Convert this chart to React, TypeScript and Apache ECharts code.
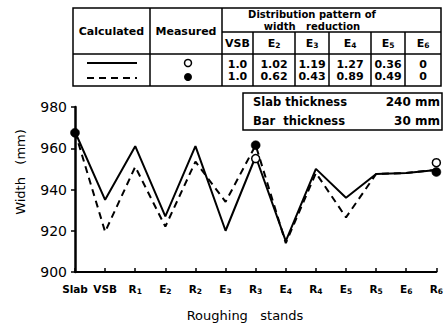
import React, { useEffect, useRef } from "react";
import * as echarts from "echarts";

const categories = ["Slab", "VSB", "R1", "E2", "R2", "E3", "R3", "E4", "R4", "E5", "R5", "E6", "R6"];
const calculatedSolid = [968, 935, 961, 927, 961, 920, 956, 915, 950, 936, 947.5, 948, 949.5];
const calculatedDashed = [968, 919.5, 951, 922, 953.5, 934, 961.5, 914, 948, 926.5, 947.5, 948, 949.5];
const measuredOpen: (number | null)[] = [null, null, null, null, null, null, 955, null, null, null, null, null, 953];
const measuredFilled: (number | null)[] = [967.5, null, null, null, null, null, 961.5, null, null, null, null, null, 948.5];
const yTicks = [900, 920, 940, 960, 980];

const tableHeaders = ["VSB", "E2", "E3", "E4", "E5", "E6"];
const distCalculated = ["1.0", "1.02", "1.19", "1.27", "0.36", "0"];
const distMeasured = ["1.0", "0.62", "0.43", "0.89", "0.49", "0"];
const slabThickness = "240 mm";
const barThickness = "30 mm";

const FONT = "DejaVu Sans";

function subRich(v: string) {
  const m = v.match(/^([A-Z])(\d)$/);
  return m ? `{b|${m[1]}}{s|${m[2]}}` : `{b|${v}}`;
}

export default function App() {
  const ref = useRef<HTMLDivElement>(null);
  useEffect(() => {
    if (!ref.current) return;
    const chart = echarts.init(ref.current, null, { renderer: "svg" });

    const colX = [222, 253, 295, 329, 371, 405, 441];
    const tL = 73, tR = 441, tT = 8, tM1 = 32, tM2 = 54, tB = 86;
    const lineStyle = { stroke: "#000", lineWidth: 1.5 };
    const g: any[] = [];
    const headRich = {
      b: { fontFamily: FONT, fontWeight: "bold", fontSize: 11, lineHeight: 13, fill: "#000" },
      s: { fontFamily: FONT, fontWeight: "bold", fontSize: 7.5, lineHeight: 9, verticalAlign: "bottom", fill: "#000" },
    };
    g.push({ type: "rect", shape: { x: tL, y: tT, width: tR - tL, height: tB - tT }, style: { fill: "none", stroke: "#000", lineWidth: 1.5 } });
    g.push({ type: "line", shape: { x1: 150, y1: tT, x2: 150, y2: tB }, style: lineStyle });
    g.push({ type: "line", shape: { x1: 222, y1: tT, x2: 222, y2: tB }, style: lineStyle });
    g.push({ type: "line", shape: { x1: 222, y1: tM1, x2: tR, y2: tM1 }, style: lineStyle });
    g.push({ type: "line", shape: { x1: tL, y1: tM2, x2: tR, y2: tM2 }, style: lineStyle });
    for (let i = 1; i < colX.length - 1; i++) {
      g.push({ type: "line", shape: { x1: colX[i], y1: tM1, x2: colX[i], y2: tB }, style: lineStyle });
    }
    g.push({ type: "text", x: (tL + 150) / 2, y: 31, style: { text: "Calculated", font: `bold 11px "${FONT}"`, fill: "#000", align: "center", verticalAlign: "middle" } });
    g.push({ type: "text", x: (150 + 222) / 2, y: 31, style: { text: "Measured", font: `bold 11px "${FONT}"`, fill: "#000", align: "center", verticalAlign: "middle" } });
    g.push({ type: "text", x: 312, y: 14, style: { text: "Distribution pattern of", font: `bold 10px "${FONT}"`, fill: "#000", align: "center", verticalAlign: "middle" } });
    g.push({ type: "text", x: 312, y: 26, style: { text: "width   reduction", font: `bold 10px "${FONT}"`, fill: "#000", align: "center", verticalAlign: "middle" } });
    for (let i = 0; i < tableHeaders.length; i++) {
      const cx = (colX[i] + colX[i + 1]) / 2;
      g.push({ type: "text", x: cx, y: 43, style: { text: subRich(tableHeaders[i]), rich: headRich, align: "center", verticalAlign: "middle" } });
      g.push({ type: "text", x: cx, y: 64, style: { text: distCalculated[i], font: `bold 11px "${FONT}"`, fill: "#000", align: "center", verticalAlign: "middle" } });
      g.push({ type: "text", x: cx, y: 76, style: { text: distMeasured[i], font: `bold 11px "${FONT}"`, fill: "#000", align: "center", verticalAlign: "middle" } });
    }
    g.push({ type: "line", shape: { x1: 87, y1: 63, x2: 137, y2: 63 }, style: { stroke: "#000", lineWidth: 2 } });
    g.push({ type: "line", shape: { x1: 87, y1: 78, x2: 137, y2: 78 }, style: { stroke: "#000", lineWidth: 2, lineDash: [7, 5] } });
    g.push({ type: "circle", shape: { cx: 188, cy: 63, r: 3.5 }, style: { fill: "#fff", stroke: "#000", lineWidth: 1.5 } });
    g.push({ type: "circle", shape: { cx: 188, cy: 77, r: 4 }, style: { fill: "#000" } });
    g.push({ type: "rect", shape: { x: 243, y: 93, width: 199, height: 37 }, style: { fill: "#fff", stroke: "#000", lineWidth: 1.5 } });
    g.push({ type: "text", x: 253, y: 102, style: { text: "Slab thickness", font: `bold 11.5px "${FONT}"`, fill: "#000", verticalAlign: "middle" } });
    g.push({ type: "text", x: 253, y: 121, style: { text: "Bar  thickness", font: `bold 11.5px "${FONT}"`, fill: "#000", verticalAlign: "middle" } });
    g.push({ type: "text", x: 440, y: 102, style: { text: slabThickness, font: `bold 12px "${FONT}"`, fill: "#000", align: "right", verticalAlign: "middle" } });
    g.push({ type: "text", x: 440, y: 121, style: { text: barThickness, font: `bold 12px "${FONT}"`, fill: "#000", align: "right", verticalAlign: "middle" } });
    g.push({ type: "text", x: 245, y: 315, style: { text: "Roughing   stands", font: `13px "${FONT}"`, fill: "#000", align: "center", verticalAlign: "middle" } });
    g.push({ type: "text", x: 20, y: 172, rotation: Math.PI / 2, style: { text: "Width   (mm)", font: `13px "${FONT}"`, fill: "#000", align: "center", verticalAlign: "middle" } });

    chart.setOption({
      animation: false,
      backgroundColor: "#fff",
      grid: { left: 75, right: 3, top: 107, bottom: 52, containLabel: false },
      xAxis: {
        type: "category",
        data: categories,
        boundaryGap: false,
        axisLine: { lineStyle: { color: "#000", width: 2 } },
        axisTick: { inside: true, length: 4, lineStyle: { color: "#000", width: 1.5 } },
        axisLabel: {
          color: "#000",
          margin: 10,
          interval: 0,
          showMaxLabel: true,
          formatter: (v: string) => subRich(v),
          rich: {
            b: { fontFamily: FONT, fontWeight: "bold", fontSize: 10.5, lineHeight: 13, color: "#000" },
            s: { fontFamily: FONT, fontWeight: "bold", fontSize: 7.5, lineHeight: 9, verticalAlign: "bottom", color: "#000" },
          },
        },
        splitLine: { show: false },
      },
      yAxis: {
        type: "value",
        min: yTicks[0],
        max: yTicks[yTicks.length - 1],
        interval: 20,
        axisLine: { show: true, lineStyle: { color: "#000", width: 2.5 } },
        axisTick: { show: true, length: 4, lineStyle: { color: "#000", width: 1.5 } },
        axisLabel: { color: "#000", fontFamily: FONT, fontSize: 14, margin: 8 },
        splitLine: { show: false },
      },
      series: [
        { type: "line", data: calculatedSolid, symbol: "none", lineStyle: { color: "#000", width: 2 }, z: 2 },
        { type: "line", data: calculatedDashed, symbol: "none", lineStyle: { color: "#000", width: 2, type: [7, 5] }, z: 2 },
        { type: "scatter", data: measuredOpen, symbol: "circle", symbolSize: 8, itemStyle: { color: "#fff", borderColor: "#000", borderWidth: 1.5, opacity: 1 }, emphasis: { disabled: true }, z: 4 },
        { type: "scatter", data: measuredFilled, symbol: "circle", symbolSize: 9, itemStyle: { color: "#000", borderColor: "#000", borderWidth: 0.5, opacity: 1 }, emphasis: { disabled: true }, z: 5 },
      ],
      graphic: g,
    });
    return () => chart.dispose();
  }, []);
  return <div ref={ref} style={{ position: "fixed", left: 0, top: 0, width: 446, height: 324 }} />;
}
